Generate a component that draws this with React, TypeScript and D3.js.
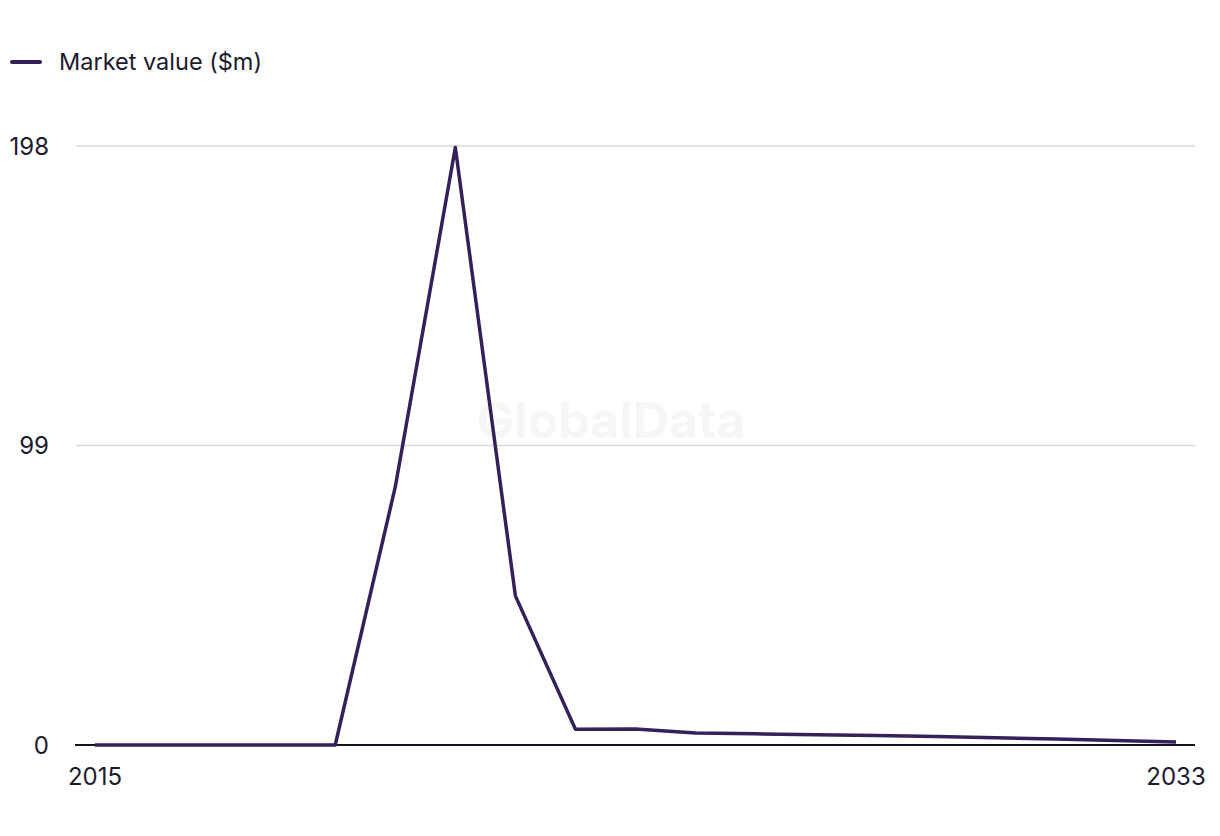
import React, { useEffect, useRef } from 'react';
import * as d3 from 'd3';

const years = [2015, 2016, 2017, 2018, 2019, 2020, 2021, 2022, 2023, 2024, 2025, 2026, 2027, 2028, 2029, 2030, 2031, 2032, 2033];
const marketValue = [0, 0, 0, 0, 0, 85.3, 197.5, 49.3, 5.2, 5.3, 4.0, 3.7, 3.4, 3.1, 2.8, 2.4, 2.0, 1.5, 1.0];
const yTicks = [0, 99, 198];
const xTickLabels = [2015, 2033];
const seriesName = 'Market value ($m)';

const App: React.FC = () => {
  const svgRef = useRef<SVGSVGElement>(null);

  useEffect(() => {
    if (!svgRef.current) return;
    const svg = d3.select(svgRef.current);
    svg.selectAll('*').remove();

    const font = "Inter, 'Liberation Sans', sans-serif";
    const lineColor = '#34215a';
    const textColor = '#1c1a2e';

    const x = d3.scaleLinear().domain([2015, 2033]).range([95, 1176]);
    const y = d3.scaleLinear().domain([0, 198]).range([745, 146]);

    // watermark
    svg.append('text')
      .attr('x', 611).attr('y', 438)
      .attr('text-anchor', 'middle')
      .attr('fill', '#f6f6f6')
      .style('font-family', font)
      .style('font-size', '50px')
      .style('font-weight', 700)
      .text('GlobalData');

    // legend
    svg.append('line')
      .attr('x1', 12).attr('x2', 40).attr('y1', 62).attr('y2', 62)
      .attr('stroke', lineColor).attr('stroke-width', 4).attr('stroke-linecap', 'round');
    svg.append('text')
      .attr('x', 59).attr('y', 70)
      .attr('fill', textColor)
      .style('font-family', font).style('font-size', '23.5px')
      .text(seriesName);

    // gridlines
    svg.append('g').selectAll('line')
      .data(yTicks.filter(t => t !== 0))
      .join('line')
      .attr('x1', 76).attr('x2', 1195)
      .attr('y1', d => y(d)).attr('y2', d => y(d))
      .attr('stroke', '#d9d9d9').attr('stroke-width', 1.5);

    // y labels
    svg.append('g').selectAll('text')
      .data(yTicks)
      .join('text')
      .attr('x', 49).attr('y', d => y(d) + 8.5)
      .attr('text-anchor', 'end')
      .attr('fill', textColor)
      .style('font-family', font).style('font-size', '24px')
      .text(d => d);

    // baseline
    svg.append('line')
      .attr('x1', 75).attr('x2', 1195)
      .attr('y1', y(0)).attr('y2', y(0))
      .attr('stroke', '#14141f').attr('stroke-width', 2);

    // x labels
    svg.append('g').selectAll('text')
      .data(xTickLabels)
      .join('text')
      .attr('x', d => x(d)).attr('y', 785)
      .attr('text-anchor', 'middle')
      .attr('fill', textColor)
      .style('font-family', font).style('font-size', '24px')
      .text(d => d);

    const line = d3.line<number>()
      .x((_, i) => x(years[i]))
      .y(d => y(d));

    svg.append('path')
      .datum(marketValue)
      .attr('d', line)
      .attr('fill', 'none')
      .attr('stroke', lineColor)
      .attr('stroke-width', 3.5)
      .attr('stroke-linejoin', 'round');
  }, []);

  return (
    <svg ref={svgRef} width={1220} height={836}
      style={{ position: 'absolute', left: 0, top: 0, background: '#fff' }} />
  );
};

export default App;
